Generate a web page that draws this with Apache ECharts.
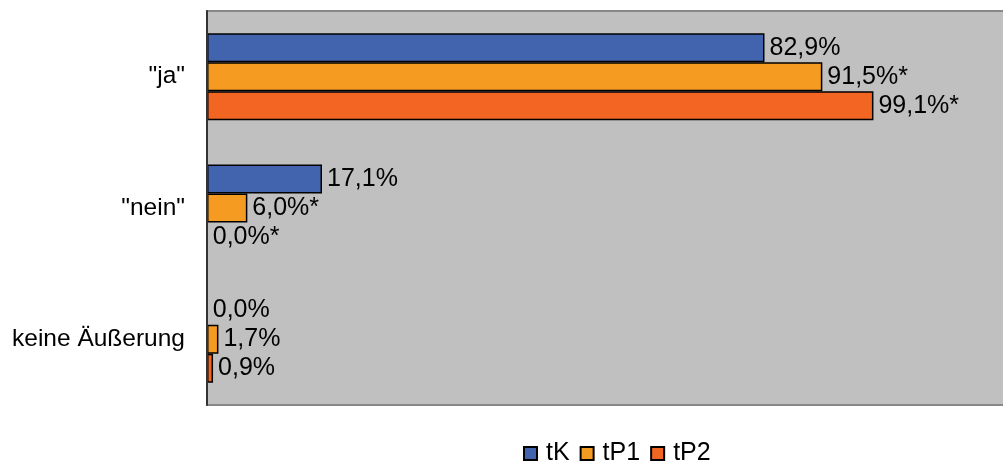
<!DOCTYPE html>
<html>
<head>
<meta charset="utf-8">
<script src="https://cdn.jsdelivr.net/npm/echarts@6/dist/echarts.min.js"></script>
<style>html,body{margin:0;padding:0;background:#fff;}#c{width:1003px;height:461px;}</style>
</head>
<body>
<div id="c"></div>
<script>
const categories = ['"ja"', '"nein"', 'keine Äußerung'];
const seriesNames = ['tK', 'tP1', 'tP2'];
const tK = [82.9, 17.1, 0.0];
const tP1 = [91.5, 6.0, 1.7];
const tP2 = [99.1, 0.0, 0.9];
const tKMarks = ['', '', ''];
const tP1Marks = ['*', '*', ''];
const tP2Marks = ['*', '*', ''];
const colors = ['#4263ae', '#f59b21', '#f26522'];

const FONT = 'Liberation Sans, Arial, sans-serif';
const FS = 25;
function fmt(marks) {
  return p => p.value.toFixed(1).replace('.', ',') + '%' + marks[p.dataIndex];
}
function mk(name, data, marks, color) {
  return {
    name: name, type: 'bar', data: data, barWidth: 29, barGap: '0%',
    itemStyle: { color: color, borderColor: '#000', borderWidth: 1.5 },
    label: { show: true, position: 'right', distance: 5, color: '#000',
             fontSize: FS, fontFamily: FONT, formatter: fmt(marks) },
    animation: false
  };
}
const edgeAxis = pos => ({
  type: 'value', min: 0, max: 120, position: pos,
  axisLine: { show: true, lineStyle: { color: '#888', width: 2 } },
  axisTick: { show: false }, axisLabel: { show: false }, splitLine: { show: false }
});
const chart = echarts.init(document.getElementById('c'));
chart.setOption({
  animation: false,
  grid: { left: 207, top: 11, width: 807, height: 394, show: true,
          outerBoundsMode: 'none', containLabel: false,
          backgroundColor: '#c0c0c0', borderWidth: 0 },
  xAxis: [edgeAxis('bottom'), edgeAxis('top')],
  yAxis: { type: 'category', data: categories, inverse: true, z: 5,
           axisLine: { lineStyle: { color: '#333', width: 2 } },
           axisTick: { length: 6, lineStyle: { color: '#333', width: 1.5 } },
           axisLabel: { color: '#000', fontSize: 24.5, fontFamily: FONT, margin: 22 } },
  legend: { left: 518, top: 436, itemWidth: 13, itemHeight: 13, itemGap: 10,
            icon: 'rect', data: seriesNames,
            textStyle: { color: '#000', fontSize: FS, fontFamily: FONT, padding: [0, 0, 0, 4] } },
  series: [mk(seriesNames[0], tK, tKMarks, colors[0]),
           mk(seriesNames[1], tP1, tP1Marks, colors[1]),
           mk(seriesNames[2], tP2, tP2Marks, colors[2])]
});
</script>
</body>
</html>
